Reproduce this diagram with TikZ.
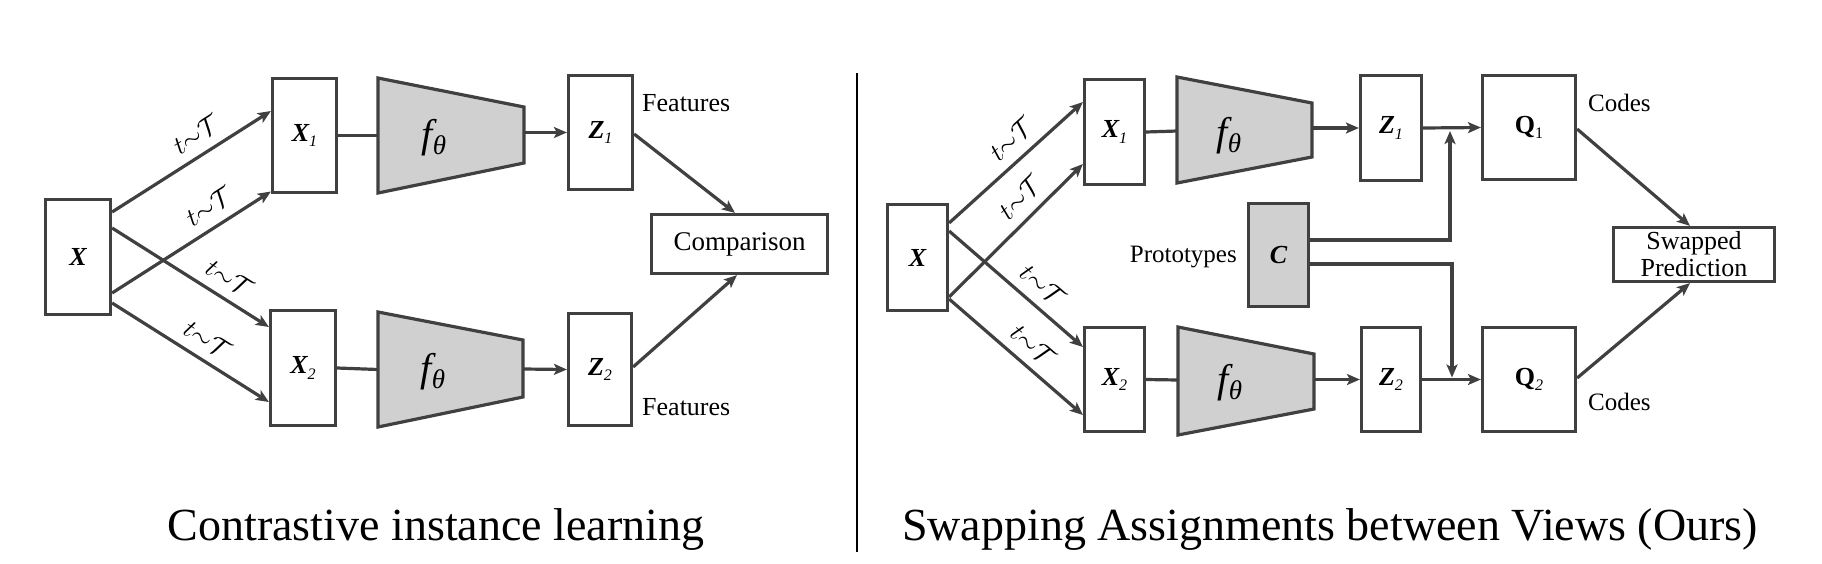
\documentclass[tikz,border=0pt]{standalone}
\usepackage{fontspec}
\setmainfont{Liberation Serif}
\usetikzlibrary{arrows.meta,calc}
\definecolor{ln}{HTML}{404040}
\definecolor{gr}{HTML}{D1D0D1}
\newcommand\bv[2]{{\bfseries\itshape #1}\raisebox{-0.22em}{\fontsize{16}{16}\selectfont\itshape #2}}
\newcommand\bq[2]{{\bfseries #1}\raisebox{-0.22em}{\fontsize{16}{16}\selectfont #2}}
\newcommand\fth{{\fontsize{40}{40}\selectfont\itshape f}\raisebox{-7pt}{\fontsize{27}{27}\selectfont\itshape θ}}
\newcommand\tT{\scalebox{2.6}{$t{\sim}\mathcal{T}$}}
\tikzset{
  box/.style={draw=ln, line width=3.2pt, fill=white, inner sep=0pt, font=\fontsize{26}{26}\selectfont},
  gbox/.style={box, fill=gr},
  trap/.style={draw=ln, fill=gr, line width=3.2pt, line join=miter},
  conn/.style={draw=ln, line width=3.2pt},
  arr/.style={conn, -{Stealth[length=13pt,width=11pt,inset=3pt]}},
  lab/.style={inner sep=0pt, font=\fontsize{26}{26}\selectfont},
  tlab/.style={sloped, above=10pt, inner sep=0pt, font=\normalsize},
  ftxt/.style={inner sep=0pt},
  title/.style={inner sep=0pt, anchor=base, font=\fontsize{46}{46}\selectfont}
}
\begin{document}
\begin{tikzpicture}[x=1pt,y=-1pt]
\useasboundingbox (0,0) rectangle (1822,563);
% ---------- left panel ----------
\node[box, minimum width=65, minimum height=115] (X) at (78,257) {{\bfseries\itshape X}};
\node[box, minimum width=64, minimum height=114] (X1) at (304.5,135.5) {\bv{X}{1}};
\node[box, minimum width=65, minimum height=115] (X2) at (303,368) {\bv{X}{2}};
\filldraw[trap] (378,78) -- (524,107) -- (524,163) -- (378,193) -- cycle;
\filldraw[trap] (378,312) -- (523,340) -- (523,397) -- (378,427) -- cycle;
\node[ftxt] (f1) at (434,138) {\fth};
\node[ftxt] (f2) at (433,372) {\fth};
\coordinate (f1in) at (378,135.5);
\coordinate (f1out) at (524,132.5);
\coordinate (f2in) at (378,369.5);
\coordinate (f2out) at (523,369);
\node[box, minimum width=64, minimum height=114] (Z1) at (600.5,132.5) {\bv{Z}{1}};
\node[box, minimum width=63, minimum height=112] (Z2) at (600,369.5) {\bv{Z}{2}};
\node[box, minimum width=176, minimum height=59, font=\fontsize{27}{27}\selectfont] (cmp) at (739.5,244) {Comparison};
\node[lab, anchor=west] (feat1) at (642,103) {Features};
\node[lab, anchor=west] (feat2) at (642,407) {Features};

\draw[arr] ([yshift=45pt]X.east) -- node[tlab, pos=0.6] {\tT} ([yshift=24.5pt]X1.west);
\draw[arr] ([yshift=-36pt]X.east) -- node[tlab, pos=0.68] {\tT} ([yshift=-56pt]X1.west);
\draw[arr] ([yshift=29pt]X.east) -- node[tlab, pos=0.68] {\tT} ([yshift=41pt]X2.west);
\draw[arr] ([yshift=-46pt]X.east) -- node[tlab, pos=0.54] {\tT} ([yshift=-34pt]X2.west);
\draw[conn] (X1.east) -- (f1in);
\draw[conn] (X2.east) -- (f2in);
\draw[arr] (f1out) -- (Z1.west);
\draw[arr] (f2out) -- (Z2.west);
\draw[arr] ([yshift=-1.5pt]Z1.east) -- ([xshift=-4.5pt]cmp.north);
\draw[arr] ([yshift=2.5pt]Z2.east) -- ([xshift=-2.5pt]cmp.south);

% divider
\coordinate (dtop) at (857,73);
\coordinate (dbot) at (857,552);
\draw[black, line width=2pt] (dtop) -- (dbot);

% ---------- right panel ----------
\node[box, minimum width=60, minimum height=106] (RX) at (917.5,257.5) {{\bfseries\itshape X}};
\node[box, minimum width=60, minimum height=105] (RX1) at (1114.5,132) {\bv{X}{1}};
\node[box, minimum width=60, minimum height=104] (RX2) at (1114.5,379.5) {\bv{X}{2}};
\filldraw[trap] (1177,77) -- (1312,103) -- (1312,157) -- (1177,183) -- cycle;
\filldraw[trap] (1178,327) -- (1314,354) -- (1314,409) -- (1178,435) -- cycle;
\node[ftxt] (rf1) at (1229,136) {\fth};
\node[ftxt] (rf2) at (1230,383) {\fth};
\coordinate (rf1in) at (1177,131);
\coordinate (rf1out) at (1312,128);
\coordinate (rf2in) at (1178,380);
\coordinate (rf2out) at (1314,379.5);
\node[gbox, minimum width=60, minimum height=103] (C) at (1278.5,255) {{\bfseries\itshape C}};
\node[lab, anchor=east, font=\fontsize{25}{25}\selectfont] (proto) at (1237,257) {Prototypes};
\node[box, minimum width=61, minimum height=105] (RZ1) at (1391,128) {\bv{Z}{1}};
\node[box, minimum width=59, minimum height=104] (RZ2) at (1391,379.5) {\bv{Z}{2}};
\node[box, minimum width=93, minimum height=104] (Q1) at (1529,127.5) {\bq{Q}{1}};
\node[box, minimum width=93, minimum height=104] (Q2) at (1529,379.5) {{\bfseries Q}\raisebox{-0.22em}{\fontsize{16}{16}\selectfont\itshape 2}};
\node[box, minimum width=161, minimum height=54, align=center, font=\fontsize{26}{27}\selectfont] (SP) at (1694,254.5) {Swapped\\Prediction};
\node[lab, anchor=west, font=\fontsize{25}{25}\selectfont] (codes1) at (1588,103) {Codes};
\node[lab, anchor=west, font=\fontsize{25}{25}\selectfont] (codes2) at (1588,402) {Codes};

\draw[arr] ([yshift=34.5pt]RX.east) -- node[tlab, pos=0.57] {\tT} ([yshift=30pt]RX1.west);
\draw[arr] ([yshift=-39.5pt]RX.east) -- node[tlab, pos=0.64] {\tT} ([yshift=-32pt]RX1.west);
\draw[arr] ([yshift=26.5pt]RX.east) -- node[tlab, pos=0.6] {\tT} ([yshift=32.5pt]RX2.west);
\draw[arr] ([yshift=-41.5pt]RX.east) -- node[tlab, pos=0.53] {\tT} ([yshift=-35.5pt]RX2.west);
\draw[conn] (RX1.east) -- (rf1in);
\draw[conn] (RX2.east) -- (rf2in);
\draw[arr] (rf1out) -- (RZ1.west);
\draw[arr] (rf2out) -- (RZ2.west);
\draw[arr] (RZ1.east) -- (Q1.west);
\draw[arr] (RZ2.east) -- (Q2.west);
\coordinate (j1) at (1450,128);
\coordinate (j2) at (1452,379.5);
\draw[arr] ([yshift=15pt]C.east) -| ([yshift=-3pt]j1);
\draw[arr] ([yshift=-9pt]C.east) -| ([yshift=2pt]j2);
\draw[arr] ([yshift=-1.5pt]Q1.east) -- ([xshift=-4pt]SP.north);
\draw[arr] ([yshift=1.5pt]Q2.east) -- ([xshift=-4pt]SP.south);

% titles
\node[title] (t1) at (436,540) {Contrastive instance learning};
\node[title] (t2) at (1330,540) {Swapping Assignments between Views (Ours)};
\end{tikzpicture}
\end{document}
